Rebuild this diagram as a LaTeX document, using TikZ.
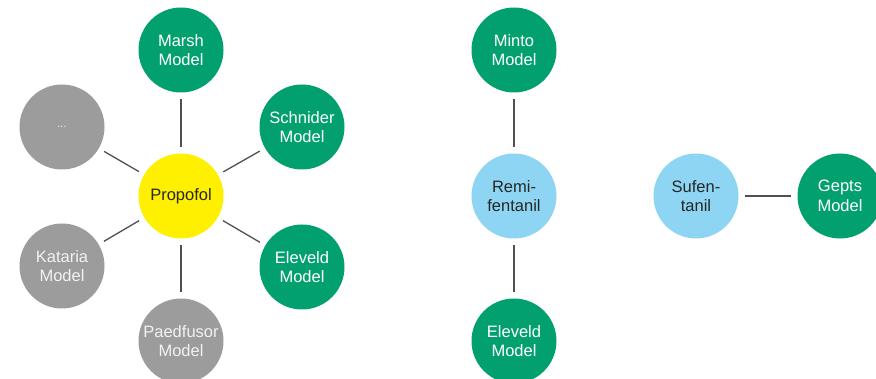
\documentclass[tikz,border=0pt]{standalone}
\usepackage{fontspec}
\setmainfont{Liberation Sans}
\definecolor{modelgreen}{HTML}{02A06F}
\definecolor{modelgray}{HTML}{9C9C9C}
\definecolor{drugyellow}{HTML}{FFF000}
\definecolor{drugblue}{HTML}{8DD5F3}
\definecolor{linkgray}{HTML}{505050}
\begin{document}
\begin{tikzpicture}[x=1pt,y=-1pt,
  bubble/.style={circle,minimum size=85pt,inner sep=0pt,align=center,
    font=\fontsize{16.5}{19.5}\selectfont},
  greenmodel/.style={bubble,fill=modelgreen,text=white},
  graymodel/.style={bubble,fill=modelgray,text=white!90!gray},
  drugY/.style={bubble,fill=drugyellow,text=black!85},
  drugB/.style={bubble,fill=drugblue,text=black!85},
  link/.style={draw=linkgray,line width=1.3pt,shorten >=6pt,shorten <=6pt}]
\useasboundingbox (0,0) rectangle (876,379);

% Propofol and its models
\node[drugY] (propofol) at (181,196) {Propofol};
\node[greenmodel] (marsh) at (181,50) {Marsh\\Model};
\node[greenmodel] (schnider) at (302,127) {Schnider\\Model};
\node[greenmodel] (eleveldP) at (302,267) {Eleveld\\Model};
\node[graymodel] (paedfusor) at (181,341) {Paedfusor\\Model};
\node[graymodel] (kataria) at (62,266) {Kataria\\Model};
\node[graymodel] (more) at (62,127) {\fontsize{11}{12}\selectfont ...};

% Remifentanil and its models
\node[drugB] (remi) at (514,196) {Remi-\\fentanil};
\node[greenmodel] (minto) at (514,50) {Minto\\Model};
\node[greenmodel] (eleveldR) at (514,341) {Eleveld\\Model};

% Sufentanil and its model
\node[drugB] (sufen) at (696,196) {Sufen-\\tanil};
\node[greenmodel] (gepts) at (840,196) {Gepts\\Model};

% Connectors
\draw[link] (marsh) -- (propofol);
\draw[link] (schnider) -- (propofol);
\draw[link] (eleveldP) -- (propofol);
\draw[link] (paedfusor) -- (propofol);
\draw[link] (kataria) -- (propofol);
\draw[link] (more) -- (propofol);
\draw[link] (minto) -- (remi);
\draw[link] (eleveldR) -- (remi);
\draw[link] (sufen) -- (gepts);
\end{tikzpicture}
\end{document}
